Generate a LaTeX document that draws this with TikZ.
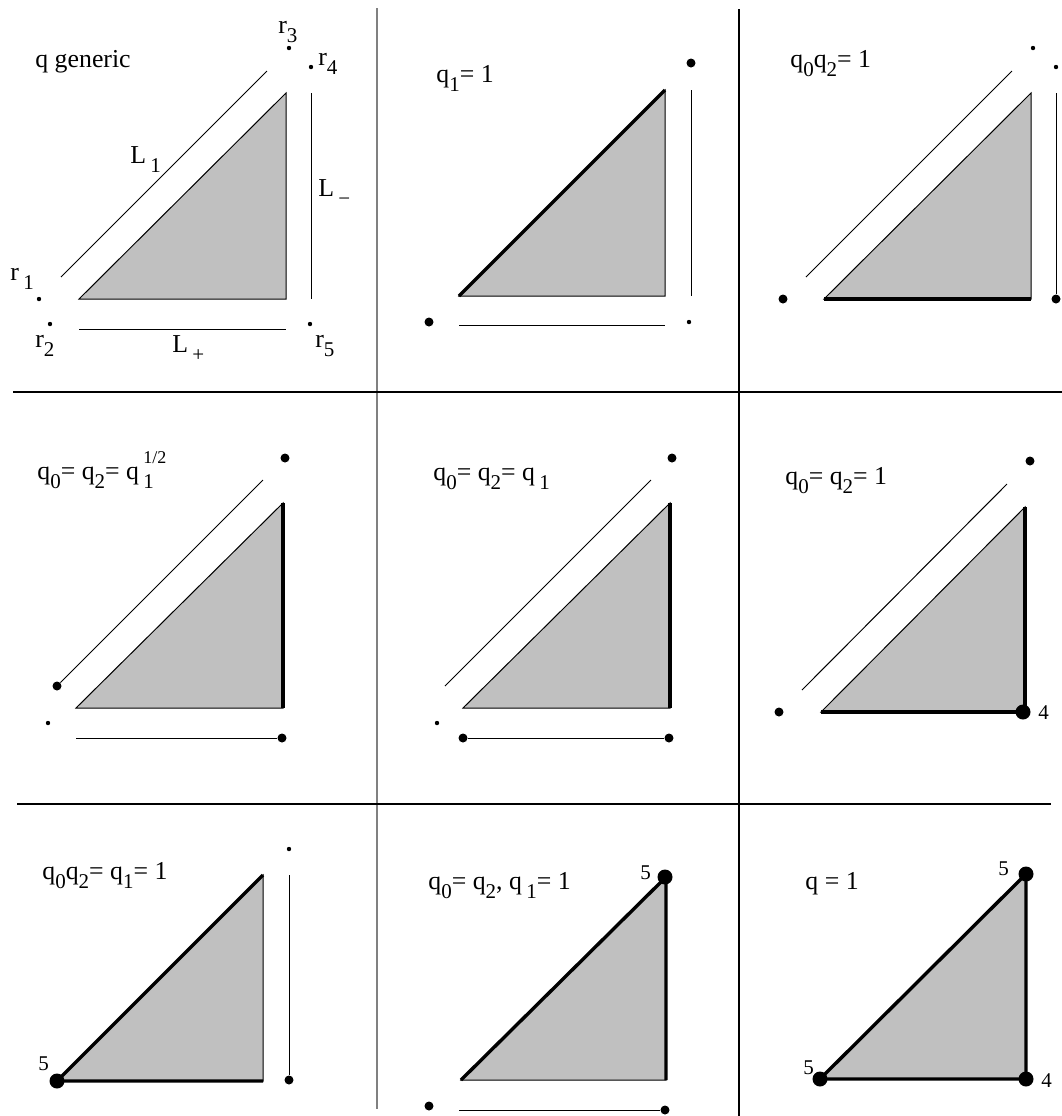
\documentclass[tikz,border=0pt]{standalone}
\usepackage{fontspec}
\setmainfont{Liberation Serif}
\usepackage{tikz}
\definecolor{shade}{RGB}{192,192,192}
\newcommand{\sbs}[1]{\raisebox{-0.38em}{\fontsize{10.5}{11}\selectfont #1}}
\newcommand{\sps}[1]{\raisebox{0.6em}{\fontsize{9}{10}\selectfont #1}}

\begin{document}
\begin{tikzpicture}[x=0.5pt, y=-0.5pt,
    sdot/.style={circle, fill, inner sep=0pt, minimum size=2.2pt},
    bdot/.style={circle, fill, inner sep=0pt, minimum size=4.5pt},
    hdot/.style={circle, fill, inner sep=0pt, minimum size=7.5pt},
    tri/.style={fill=shade, draw, line width=0.5pt},
    edge/.style={line width=0.5pt},
    bold/.style={line width=1.7pt},
    divider/.style={line width=0.8pt},
    lbl/.style={inner sep=0pt, anchor=base west, font=\fontsize{12.9}{15}\selectfont},
    num/.style={inner sep=0pt, anchor=base west, font=\fontsize{10.5}{12}\selectfont}
]
\useasboundingbox (0,0) rectangle (1062,1116);

% Dividers
\coordinate (v1t) at (377,8);   \coordinate (v1b) at (377,1109);
\coordinate (v2t) at (739,9);   \coordinate (v2b) at (739,1116);
\coordinate (h1l) at (13,392);  \coordinate (h1r) at (1062,392);
\coordinate (h2l) at (17,804);  \coordinate (h2r) at (1051,804);
\draw[divider, black!50] (v1t) -- (v1b);
\draw[divider, line width=1pt] (v2t) -- (v2b);
\draw[divider] (h1l) -- (h1r);
\draw[divider] (h2l) -- (h2r);

% q generic
\coordinate (aA) at (79,299); \coordinate (aB) at (286,299); \coordinate (aC) at (286,93);
\filldraw[tri] (aA) -- (aB) -- (aC) -- cycle;
\coordinate (aL1s) at (61,277);  \coordinate (aL1e) at (267,71);
\coordinate (aLms) at (311,93);  \coordinate (aLme) at (311,299);
\coordinate (aLps) at (79,329);  \coordinate (aLpe) at (286,329);
\draw[edge] (aL1s) -- (aL1e);
\draw[edge] (aLms) -- (aLme);
\draw[edge] (aLps) -- (aLpe);
\node[sdot] (r1) at (39,299) {};
\node[sdot] (r2) at (50,324) {};
\node[sdot] (r3) at (289,48) {};
\node[sdot] (r4) at (311,67) {};
\node[sdot] (r5) at (310,324) {};
\node[lbl] (r1lbl) at (10,280) {r\,\sbs{1}};
\node[lbl] (r2lbl) at (35,347) {r\sbs{2}};
\node[lbl] (r3lbl) at (278,33) {r\sbs{3}};
\node[lbl] (r4lbl) at (318,65) {r\sbs{4}};
\node[lbl] (r5lbl) at (315,347) {r\sbs{5}};
\node[lbl] (L1lbl) at (130,163) {L\,\sbs{1}};
\node[lbl] (Lmlbl) at (318,196) {L\,\sbs{−}};
\node[lbl] (Lplbl) at (172,352) {L\,\sbs{+}};
\node[lbl] (atitle) at (35,67) {q generic};

% q1 = 1
\coordinate (bA) at (459,296); \coordinate (bB) at (665,296); \coordinate (bC) at (665,90);
\filldraw[tri] (bA) -- (bB) -- (bC) -- cycle;
\draw[bold] (bA) -- (bC);
\coordinate (bVs) at (691,90);  \coordinate (bVe) at (691,296);
\coordinate (bHs) at (459,325); \coordinate (bHe) at (665,325);
\draw[edge] (bVs) -- (bVe);
\draw[edge] (bHs) -- (bHe);
\node[bdot] (bD1) at (691,63) {};
\node[bdot] (bD2) at (429,322) {};
\node[sdot] (bD3) at (689,322) {};
\node[lbl] (btitle) at (436,82) {q\sbs{1}= 1};

% q0 q2 = 1
\coordinate (cA) at (824,299); \coordinate (cB) at (1031,299); \coordinate (cC) at (1031,93);
\filldraw[tri] (cA) -- (cB) -- (cC) -- cycle;
\draw[bold] (cA) -- (cB);
\coordinate (cDs) at (806,277); \coordinate (cDe) at (1012,71);
\draw[edge] (cDs) -- (cDe);
\coordinate (cVs) at (1056,93);
\node[bdot] (cD1) at (1056,299) {};
\draw[edge] (cVs) -- (cD1);
\node[bdot] (cD2) at (783,299) {};
\node[sdot] (cD3) at (1033,48) {};
\node[sdot] (cD4) at (1056,67) {};
\node[lbl] (ctitle) at (790,67) {q\sbs{0}q\sbs{2}= 1};

% q0 = q2 = q1^(1/2)
\coordinate (dA) at (76,708); \coordinate (dB) at (283,708); \coordinate (dC) at (283,503);
\filldraw[tri] (dA) -- (dB) -- (dC) -- cycle;
\draw[bold] (dB) -- (dC);
\node[bdot] (dD1) at (57,686) {};
\coordinate (dDe) at (263,480);
\draw[edge] (dD1) -- (dDe);
\node[bdot] (dD2) at (285,458) {};
\node[sdot] (dD3) at (48,723) {};
\coordinate (dHs) at (76,738);
\node[bdot] (dD4) at (282,738) {};
\draw[edge] (dHs) -- (dD4);
\node[lbl] (dtitle) at (37,479) {q\sbs{0}= q\sbs{2}= q\,\rlap{\sbs{1}}\sps{1/2}};

% q0 = q2 = q1
\coordinate (eA) at (463,708); \coordinate (eB) at (670,708); \coordinate (eC) at (670,503);
\filldraw[tri] (eA) -- (eB) -- (eC) -- cycle;
\draw[bold] (eB) -- (eC);
\coordinate (eDs) at (445,686); \coordinate (eDe) at (651,480);
\draw[edge] (eDs) -- (eDe);
\node[bdot] (eD1) at (672,458) {};
\node[sdot] (eD2) at (437,723) {};
\node[bdot] (eD3) at (463,738) {};
\node[bdot] (eD4) at (669,738) {};
\draw[edge] (eD3) -- (eD4);
\node[lbl] (etitle) at (433,480) {q\sbs{0}= q\sbs{2}= q\,\sbs{1}};

% q0 = q2 = 1
\coordinate (fA) at (821,712); \coordinate (fB) at (1025,712); \coordinate (fC) at (1025,507);
\filldraw[tri] (fA) -- (fB) -- (fC) -- cycle;
\draw[bold] (fA) -- (fB) -- (fC);
\coordinate (fDs) at (802,690); \coordinate (fDe) at (1007,484);
\draw[edge] (fDs) -- (fDe);
\node[bdot] (fD1) at (1030,461) {};
\node[bdot] (fD2) at (779,712) {};
\node[hdot] (fD3) at (1023,712) {};
\node[num] (fnum) at (1038,719) {4};
\node[lbl] (ftitle) at (785,484) {q\sbs{0}= q\sbs{2}= 1};

% q0 q2 = q1 = 1
\coordinate (gA) at (57,1081); \coordinate (gB) at (263,1081); \coordinate (gC) at (263,875);
\filldraw[tri] (gA) -- (gB) -- (gC) -- cycle;
\draw[bold] (gB) -- (gA) -- (gC);
\coordinate (gVs) at (289,875);
\node[bdot] (gD1) at (289,1080) {};
\draw[edge] (gVs) -- (gD1);
\node[sdot] (gD2) at (289,849) {};
\node[hdot] (gD3) at (57,1081) {};
\node[num] (gnum) at (38,1070) {5};
\node[lbl] (gtitle) at (42,879) {q\sbs{0}q\sbs{2}= q\sbs{1}= 1};

% q0 = q2, q1 = 1
\coordinate (hA) at (461,1080); \coordinate (hB) at (666,1080); \coordinate (hC) at (666,877);
\filldraw[tri] (hA) -- (hB) -- (hC) -- cycle;
\draw[bold] (hA) -- (hC) -- (hB);
\node[hdot] (hD1) at (665,877) {};
\node[num] (hnum) at (640,879) {5};
\coordinate (hHs) at (459,1110);
\node[bdot] (hD2) at (665,1110) {};
\draw[edge] (hHs) -- (hD2);
\node[bdot] (hD3) at (429,1106) {};
\node[lbl] (htitle) at (428,889) {q\sbs{0}= q\sbs{2}, q\,\sbs{1}= 1};

% q = 1
\coordinate (iA) at (820,1079); \coordinate (iB) at (1026,1079); \coordinate (iC) at (1026,874);
\filldraw[tri] (iA) -- (iB) -- (iC) -- cycle;
\draw[bold] (iA) -- (iB) -- (iC) -- cycle;
\node[hdot] (iD1) at (iA) {};
\node[hdot] (iD2) at (iB) {};
\node[hdot] (iD3) at (iC) {};
\node[num] (inum1) at (998,875) {5};
\node[num] (inum2) at (803,1074) {5};
\node[num] (inum3) at (1041,1087) {4};
\node[lbl] (ititle) at (805,889) {q = 1};

\end{tikzpicture}
\end{document}
